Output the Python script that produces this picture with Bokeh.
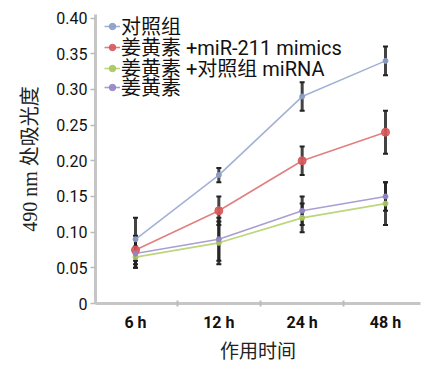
from bokeh.plotting import figure
from bokeh.models import (ColumnDataSource, Whisker, TeeHead, Legend, LegendItem,
                          FixedTicker, Range1d)
from bokeh.embed import file_html
from bokeh.resources import INLINE

# ---- data ----
times = ["6 h", "12 h", "24 h", "48 h"]
labels = ["对照组", "姜黄素 +miR-211 mimics", "姜黄素 +对照组 miRNA", "姜黄素"]
ctrl = [0.09, 0.18, 0.29, 0.34]
ctrl_err = [0.03, 0.01, 0.02, 0.02]
mimics = [0.075, 0.13, 0.20, 0.24]
mimics_err = [0.02, 0.02, 0.02, 0.03]
neg_mirna = [0.065, 0.085, 0.12, 0.14]
neg_mirna_err = [0.015, 0.03, 0.02, 0.03]
curcumin = [0.07, 0.09, 0.13, 0.15]
curcumin_err = [0.02, 0.03, 0.02, 0.02]
y_ticks = [0, 0.05, 0.10, 0.15, 0.20, 0.25, 0.30, 0.35, 0.40]
y_tick_labels = ["0", "0.05", "0.10", "0.15", "0.20", "0.25", "0.30", "0.35", "0.40"]

series = [
    (ctrl, ctrl_err, "#a3b2d4", "#8d9ec6", 5),
    (mimics, mimics_err, "#e08080", "#d9585a", 8),
    (neg_mirna, neg_mirna_err, "#bcd67c", "#a8c860", 5),
    (curcumin, curcumin_err, "#aa9fd2", "#9486c6", 5),
]
legend_offsets = [263, 242, 221, 202]  # screen px from frame bottom

xs = [i + 0.5 for i in range(len(times))]

p = figure(width=425, height=368, output_backend="svg", toolbar_location=None,
           x_range=Range1d(0.02, 3.92), y_range=Range1d(0, 0.405),
           min_border_left=95, min_border_right=5, min_border_top=14,
           min_border_bottom=65)
p.outline_line_color = None
p.xgrid.grid_line_color = None
p.ygrid.grid_line_color = None
p.background_fill_color = "white"
p.border_fill_color = "white"

CJK = "'Noto Sans CJK SC'"
line_renderers = []
for (vals, errs, lc, mc, ms), lab in zip(series, labels):
    src = ColumnDataSource(dict(x=xs, y=vals,
                                lo=[v - e for v, e in zip(vals, errs)],
                                hi=[v + e for v, e in zip(vals, errs)]))
    lr = p.line("x", "y", source=src, line_color=lc, line_width=1.6)
    w = Whisker(base="x", lower="lo", upper="hi", source=src,
                line_color="#222222", line_width=3, line_alpha=0.85,
                upper_head=TeeHead(size=5, line_color="#222222", line_width=2),
                lower_head=TeeHead(size=5, line_color="#222222", line_width=2))
    p.add_layout(w)
    line_renderers.append((src, lr, mc, ms, lab))

for (src, lr, mc, ms, lab), off in zip(line_renderers, legend_offsets):
    cr = p.scatter("x", "y", source=src, size=ms, fill_color=mc, line_color=mc,
                   fill_alpha=0.9)
    lg = Legend(items=[LegendItem(label=lab, renderers=[lr, cr])],
                location=(9, off), padding=0, margin=0, spacing=0,
                glyph_width=16, glyph_height=20, label_height=20,
                label_standoff=1, border_line_color=None,
                background_fill_alpha=0,
                label_text_font="Roboto, 'Noto Sans CJK SC'",
                label_text_font_size="20px", label_text_color="#111111",
                label_text_line_height=1.0)
    p.add_layout(lg)

# x axis
p.xaxis.ticker = FixedTicker(ticks=xs, minor_ticks=[1, 2, 3])
p.xaxis.major_label_overrides = {x: t for x, t in zip(xs, times)}
p.xaxis.major_tick_line_color = None
p.xaxis.minor_tick_line_color = "#bbbbbb"
p.xaxis.minor_tick_line_width = 2
p.xaxis.minor_tick_in = 3
p.xaxis.minor_tick_out = 3
p.xaxis.axis_line_color = "#c6c6c6"
p.xaxis.axis_line_width = 3
p.xaxis.major_label_text_font = "Roboto"
p.xaxis.major_label_text_font_style = "bold"
p.xaxis.major_label_text_font_size = "16px"
p.xaxis.major_label_text_color = "#111111"
p.xaxis.major_label_standoff = 3
p.xaxis.axis_label = "作用时间"
p.xaxis.axis_label_text_font = CJK
p.xaxis.axis_label_text_font_style = "normal"
p.xaxis.axis_label_text_font_size = "19px"
p.xaxis.axis_label_text_color = "#222222"
p.xaxis.axis_label_standoff = 1

# y axis
p.yaxis.ticker = FixedTicker(ticks=y_ticks, minor_ticks=[])
p.yaxis.major_label_overrides = {t: l for t, l in zip(y_ticks, y_tick_labels)}
p.yaxis.axis_line_color = "#c6c6c6"
p.yaxis.axis_line_width = 3
p.yaxis.major_tick_line_color = "#bbbbbb"
p.yaxis.major_tick_line_width = 1.5
p.yaxis.major_tick_in = 0
p.yaxis.major_tick_out = 5
p.yaxis.major_label_standoff = 3
p.yaxis.major_label_text_font = "Roboto"
p.yaxis.major_label_text_font_size = "16px"
p.yaxis.major_label_text_color = "#111111"
p.yaxis.axis_label = "490 nm 处吸光度"
p.yaxis.axis_label_text_font = "'Liberation Serif', 'Noto Sans CJK SC'"
p.yaxis.axis_label_text_font_style = "normal"
p.yaxis.axis_label_text_font_size = "20px"
p.yaxis.axis_label_text_color = "#222222"
p.yaxis.axis_label_standoff = 12

open("out.html", "w").write(file_html(p, INLINE))
